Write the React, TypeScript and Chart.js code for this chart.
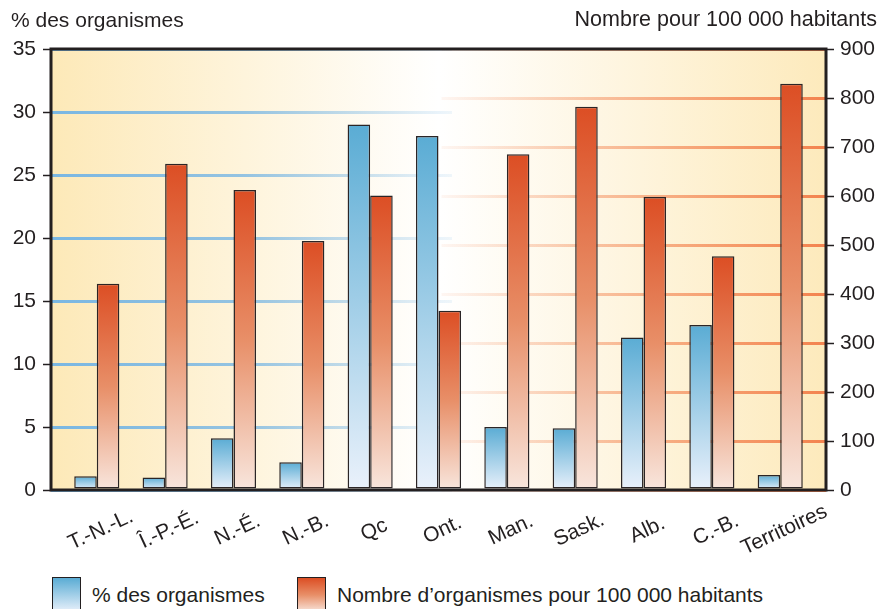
import React, { useEffect, useRef } from "react";
import { Chart, registerables } from "chart.js";

Chart.register(...registerables);

// ---------- data ----------
const categories = [
  "T.-N.-L.",
  "Î.-P.-É.",
  "N.-É.",
  "N.-B.",
  "Qc",
  "Ont.",
  "Man.",
  "Sask.",
  "Alb.",
  "C.-B.",
  "Territoires",
];
const pctOrganismes = [1.1, 1.0, 4.1, 2.2, 29.0, 28.1, 5.0, 4.9, 12.1, 13.1, 1.2];
const per100k = [421, 666, 612, 508, 601, 366, 685, 782, 598, 477, 829];
const leftTicks = [0, 5, 10, 15, 20, 25, 30, 35];
const rightTicks = [0, 100, 200, 300, 400, 500, 600, 700, 800, 900];
const leftTitle = "% des organismes";
const rightTitle = "Nombre pour 100 000 habitants";
const legendLabels = ["% des organismes", "Nombre d’organismes pour 100 000 habitants"];

// ---------- style ----------
const FONT = '"Liberation Sans", Arial, Helvetica, sans-serif';
const INK = "#231f20";
const BLUE_TOP = "#5aacd4";
const BLUE_BOTTOM = "#eaf1fb";
const RED_TOP = "#dc4e24";
const RED_MID = "#e88f68";
const RED_BOTTOM = "#f8e6dd";

function barGradient(stops: [number, string][]) {
  return (ctx: any) => {
    const chart = ctx.chart;
    if (!chart.chartArea || ctx.type !== "data" || !ctx.parsed) return stops[0][1];
    const ds = chart.data.datasets[ctx.datasetIndex];
    const scale = chart.scales[ds.yAxisID];
    if (!scale) return stops[0][1];
    const yTop = scale.getPixelForValue(ctx.parsed.y);
    const yBase = scale.getPixelForValue(0);
    if (!isFinite(yTop) || !isFinite(yBase) || yTop === yBase) return stops[0][1];
    const g = chart.ctx.createLinearGradient(0, yTop, 0, yBase);
    stops.forEach(([o, c]) => g.addColorStop(o, c));
    return g;
  };
}

function gridGradient(kind: "blue" | "orange") {
  return (ctx: any) => {
    const chart = ctx.chart;
    const a = chart.chartArea;
    if (!a) return "rgba(0,0,0,0)";
    const g = chart.ctx.createLinearGradient(a.left, 0, a.right, 0);
    if (kind === "blue") {
      g.addColorStop(0, "rgba(122,183,227,1)");
      g.addColorStop(0.25, "rgba(122,183,227,0.8)");
      g.addColorStop(0.517, "rgba(122,183,227,0.12)");
      g.addColorStop(0.518, "rgba(122,183,227,0)");
      g.addColorStop(1, "rgba(122,183,227,0)");
    } else {
      g.addColorStop(0, "rgba(243,131,79,0)");
      g.addColorStop(0.503, "rgba(243,131,79,0)");
      g.addColorStop(0.505, "rgba(243,131,79,0.07)");
      g.addColorStop(0.7, "rgba(243,131,79,0.45)");
      g.addColorStop(1, "rgba(243,131,79,1)");
    }
    return g;
  };
}

const decorPlugin = {
  id: "decor",
  beforeDraw(chart: any) {
    const { ctx, chartArea: a } = chart;
    if (!a) return;
    const g = ctx.createLinearGradient(a.left, 0, a.right, 0);
    g.addColorStop(0, "#fde9b8");
    g.addColorStop(0.5, "#ffffff");
    g.addColorStop(1, "#fdeabc");
    ctx.save();
    ctx.fillStyle = g;
    ctx.fillRect(a.left, a.top, a.right - a.left, a.bottom - a.top);
    ctx.restore();
  },
  afterDatasetsDraw(chart: any) {
    const { ctx, chartArea: a } = chart;
    if (!a) return;
    ctx.save();
    ctx.strokeStyle = INK;
    ctx.lineWidth = 3;
    ctx.strokeRect(a.left, a.top, a.right - a.left, a.bottom - a.top);
    ctx.restore();
  },
  afterDraw(chart: any) {
    const { ctx, chartArea: a } = chart;
    const xs = chart.scales.x;
    if (!a || !xs) return;
    ctx.save();
    ctx.font = `21px ${FONT}`;
    ctx.fillStyle = INK;
    ctx.textAlign = "center";
    ctx.textBaseline = "middle";
    categories.forEach((c, i) => {
      const x = xs.getPixelForValue(i) + 4;
      ctx.save();
      ctx.translate(x, a.bottom + 40);
      ctx.rotate((-25 * Math.PI) / 180);
      ctx.fillText(c, 0, 0);
      ctx.restore();
    });
    ctx.restore();
  },
};

function ChartCanvas() {
  const ref = useRef<HTMLCanvasElement | null>(null);
  useEffect(() => {
    if (!ref.current) return;
    const tickFont = { family: FONT, size: 21 };
    const chart = new Chart(ref.current, {
      type: "bar",
      data: {
        datasets: [
          {
            label: legendLabels[0],
            data: pctOrganismes.map((v, i) => ({ x: i, y: v })),
            yAxisID: "y",
            backgroundColor: barGradient([
              [0, BLUE_TOP],
              [1, BLUE_BOTTOM],
            ]),
            borderColor: "#2b2526",
            borderWidth: 1.5,
            borderSkipped: false,
            categoryPercentage: 0.66,
            barPercentage: 1,
          },
          {
            label: legendLabels[1],
            data: per100k.map((v, i) => ({ x: i, y: v })),
            yAxisID: "y1",
            backgroundColor: barGradient([
              [0, RED_TOP],
              [0.5, RED_MID],
              [1, RED_BOTTOM],
            ]),
            borderColor: "#2b2526",
            borderWidth: 1.5,
            borderSkipped: false,
            categoryPercentage: 0.66,
            barPercentage: 1,
          },
        ],
      } as any,
      options: {
        animation: false,
        responsive: false,
        devicePixelRatio: 1,
        layout: { padding: { top: 49, left: 0, right: 0, bottom: 0 } },
        plugins: { legend: { display: false }, tooltip: { enabled: false }, title: { display: false } },
        scales: {
          x: {
            type: "linear",
            min: -0.67,
            max: 10.67,
            offset: false,
            grid: { display: false },
            border: { display: false },
            ticks: { display: false },
            afterBuildTicks: (s: any) => {
              s.ticks = categories.map((_, i) => ({ value: i }));
            },
            afterFit: (s: any) => {
              s.height = 70;
            },
          },
          y: {
            type: "linear",
            position: "left",
            min: 0,
            max: 35,
            afterBuildTicks: (s: any) => {
              s.ticks = leftTicks.map((v) => ({ value: v }));
            },
            ticks: { padding: 7, color: INK, font: tickFont },
            grid: {
              color: gridGradient("blue"),
              lineWidth: 3,
              tickColor: INK,
              tickWidth: 1.5,
              tickLength: 8,
            },
            border: { display: false },
            afterFit: (s: any) => {
              s.width = 51;
            },
          },
          y1: {
            type: "linear",
            position: "right",
            min: 0,
            max: 900,
            afterBuildTicks: (s: any) => {
              s.ticks = rightTicks.map((v) => ({ value: v }));
            },
            ticks: { padding: 6, color: INK, font: tickFont },
            grid: {
              color: gridGradient("orange"),
              lineWidth: 3,
              tickColor: INK,
              tickWidth: 1.5,
              tickLength: 8,
            },
            border: { display: false },
            afterFit: (s: any) => {
              s.width = 56;
            },
          },
        },
      } as any,
      plugins: [decorPlugin],
    });
    return () => chart.destroy();
  }, []);
  return (
    <canvas
      ref={ref}
      width={882}
      height={560}
      style={{ position: "absolute", left: 0, top: 0, width: 882, height: 560, display: "block" }}
    />
  );
}

export default function App() {
  const textStyle: React.CSSProperties = {
    position: "absolute",
    fontFamily: FONT,
    fontSize: 21,
    lineHeight: "21px",
    color: INK,
    whiteSpace: "nowrap",
  };
  const swatch = (left: number, bg: string): React.CSSProperties => ({
    position: "absolute",
    left,
    top: 577,
    width: 27,
    height: 34,
    border: `1.5px solid ${INK}`,
    background: bg,
  });
  return (
    <div
      style={{
        position: "absolute",
        left: 0,
        top: 0,
        width: 882,
        height: 609,
        background: "#ffffff",
        overflow: "hidden",
      }}
    >
      <ChartCanvas />
      <div style={{ ...textStyle, left: 11, top: 9 }}>{leftTitle}</div>
      <div style={{ ...textStyle, right: 5, top: 9, fontSize: 21.5 }}>{rightTitle}</div>
      <div style={swatch(52, `linear-gradient(${BLUE_TOP}, ${BLUE_BOTTOM})`)} />
      <div style={{ ...textStyle, left: 92, top: 584 }}>{legendLabels[0]}</div>
      <div style={swatch(297, `linear-gradient(${RED_TOP}, ${RED_MID}, ${RED_BOTTOM})`)} />
      <div style={{ ...textStyle, left: 337, top: 584 }}>{legendLabels[1]}</div>
    </div>
  );
}
